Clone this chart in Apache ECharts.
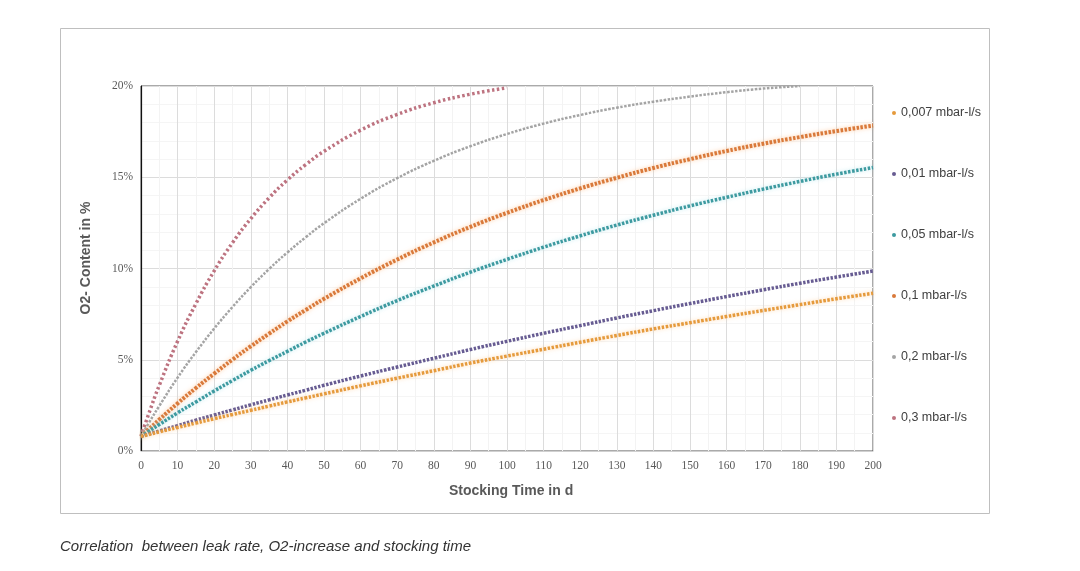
<!DOCTYPE html>
<html>
<head>
<meta charset="utf-8">
<script src="https://cdn.jsdelivr.net/npm/echarts@6/dist/echarts.min.js"></script>
<style>
html,body{margin:0;padding:0;background:#fff;}
#chart{width:1080px;height:571px;}
</style>
</head>
<body>
<div id="chart"></div>
<script>
var days = [0,2,5,10,15,20,25,30,35,40,45,50,60,70,80,90,100,110,120,130,140,150,160,170,180,190,200];
var seriesNames = ['0,007 mbar-l/s','0,01 mbar-l/s','0,05 mbar-l/s','0,1 mbar-l/s','0,2 mbar-l/s','0,3 mbar-l/s'];
var v0007 = [0.8,0.90,1.05,1.29,1.53,1.77,2.00,2.23,2.46,2.69,2.91,3.13,3.57,3.99,4.40,4.82,5.20,5.58,5.96,6.33,6.69,7.03,7.37,7.70,8.02,8.34,8.64];
var v001  = [0.8,0.92,1.10,1.39,1.69,1.97,2.25,2.53,2.80,3.07,3.33,3.60,4.11,4.60,5.08,5.56,6.01,6.45,6.87,7.29,7.69,8.08,8.46,8.83,9.19,9.53,9.86];
var v005  = [0.8,1.06,1.45,2.09,2.69,3.29,3.86,4.42,4.95,5.46,5.97,6.45,7.37,8.24,9.04,9.80,10.50,11.17,11.79,12.38,12.92,13.43,13.90,14.35,14.77,15.17,15.53];
var v01   = [0.8,1.17,1.72,2.61,3.45,4.24,5.01,5.74,6.43,7.10,7.73,8.34,9.46,10.49,11.43,12.28,13.05,13.75,14.39,14.97,15.51,15.99,16.44,16.84,17.20,17.53,17.83];
var v02   = [0.8,1.49,2.47,4.02,5.42,6.71,7.89,8.98,9.97,10.88,11.71,12.48,13.82,14.95,15.90,16.70,17.37,17.94,18.41,18.81,19.14,19.42,19.66,19.86,20.0,null,null];
var v03   = [0.8,1.97,3.60,6.01,8.07,9.87,11.41,12.73,13.87,14.85,15.69,16.42,17.58,18.44,19.08,19.55,19.90,null,null,null,null,null,null,null,null,null,null];
var xTicks = {min:0, max:200, interval:10};
var yTicks = {min:0, max:20, interval:5};

function pairs(vals){
  var out=[];
  for(var i=0;i<days.length;i++){ if(vals[i]!==null) out.push([days[i], vals[i]]); }
  return out;
}
var styles = [
  {color:'#e59a3c', type:[2.5,1.5], width:3.5, shadow:'rgba(255,190,120,0.6)'},
  {color:'#675c92', type:[2.5,1.5], width:3.5, shadow:null},
  {color:'#3d9aa0', type:[2.5,1.5], width:3.5, shadow:'rgba(150,220,230,0.6)'},
  {color:'#d9793a', type:[2.5,1.5], width:4, shadow:'rgba(255,175,110,0.7)'},
  {color:'#a4a4a4', type:[2.5,1.5], width:2.5, shadow:null},
  {color:'#bd7380', type:[2.5,2.5], width:3.5, shadow:null}
];
var allVals = [v0007, v001, v005, v01, v02, v03];
var series = allVals.map(function(vals, i){
  var s = styles[i];
  return {
    name: seriesNames[i], type:'line', data: pairs(vals), smooth:true, symbol:'none',
    lineStyle:{color:s.color, width:s.width, type:s.type, shadowColor:s.shadow||'transparent', shadowBlur:s.shadow?4:0},
    itemStyle:{color:s.color}, z: 10-i
  };
});

var chart = echarts.init(document.getElementById('chart'));
chart.setOption({
  animation:false,
  backgroundColor:'#ffffff',
  grid:{left:141, right:207, top:86, bottom:120, show:true, borderColor:'#555', borderWidth:1, backgroundColor:'transparent'},
  legend:{
    data: seriesNames, orient:'vertical', left:887, top:101, icon:'circle', itemWidth:4, itemHeight:4, itemGap:47,
    textStyle:{color:'#404040', fontSize:12.5, fontFamily:'Liberation Sans', lineHeight:14}
  },
  xAxis:{
    type:'value', min:xTicks.min, max:xTicks.max, interval:xTicks.interval,
    axisLine:{show:true, onZero:false, lineStyle:{color:'#d0d0d0'}},
    axisTick:{show:false},
    axisLabel:{color:'#595959', fontFamily:'Liberation Serif', fontSize:11.5, margin:9},
    splitLine:{show:true, lineStyle:{color:'#dcdcdc'}},
    minorTick:{show:false, splitNumber:2},
    minorSplitLine:{show:true, lineStyle:{color:'#f3f3f3'}}
  },
  yAxis:{
    type:'value', min:yTicks.min, max:yTicks.max, interval:yTicks.interval,
    axisLine:{show:true, lineStyle:{color:'#111', width:1.2}},
    axisTick:{show:false},
    axisLabel:{color:'#595959', fontFamily:'Liberation Serif', fontSize:11.5, margin:8, formatter:function(v){return v+'%';}},
    splitLine:{show:true, lineStyle:{color:'#dcdcdc'}},
    minorTick:{show:false, splitNumber:5},
    minorSplitLine:{show:true, lineStyle:{color:'#f5f5f5'}}
  },
  graphic:[
    {type:'rect', shape:{x:60.5, y:28.5, width:929, height:485}, style:{fill:'none', stroke:'#bfbfbf', lineWidth:1}, z:-1},
    {type:'text', left:449, top:484, style:{text:'Stocking Time in d', fill:'#595959', font:'bold 14px "Liberation Sans"'}},
    {type:'text', x:86, y:258, rotation:Math.PI/2, style:{text:'O2- Content in %', fill:'#595959', font:'bold 14px "Liberation Sans"', textAlign:'center', textVerticalAlign:'middle'}},
    {type:'text', left:60, top:539, style:{text:'Correlation  between leak rate, O2-increase and stocking time', fill:'#333333', font:'italic 15px "Liberation Sans"'}}
  ],
  series: series
});
</script>
</body>
</html>
